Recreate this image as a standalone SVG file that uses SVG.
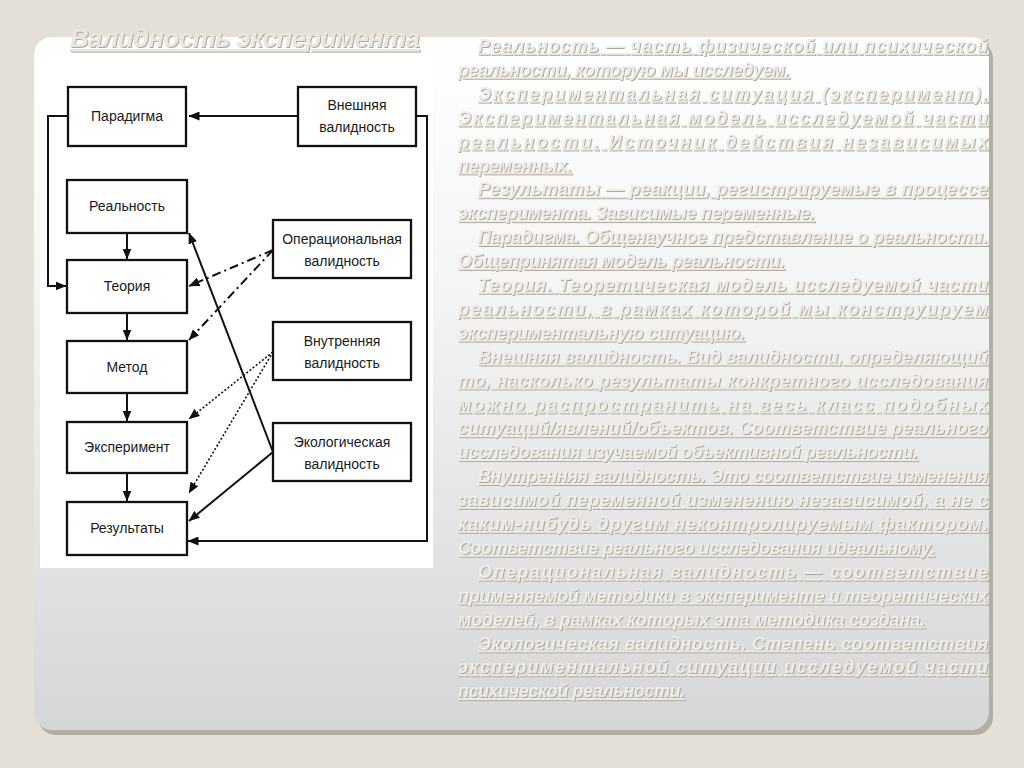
<svg xmlns="http://www.w3.org/2000/svg" width="1024" height="768" viewBox="0 0 1024 768">
<defs>
<linearGradient id="cardg" x1="0" y1="0" x2="0" y2="1">
<stop offset="0" stop-color="#ffffff"/>
<stop offset="0.35" stop-color="#f5f5f5"/>
<stop offset="1" stop-color="#d6d6d6"/>
</linearGradient>
<filter id="emb" x="-5%" y="-30%" width="110%" height="160%">
<feOffset in="SourceAlpha" dx="1" dy="1.3" result="o"/>
<feFlood flood-color="#aca79d"/>
<feComposite in2="o" operator="in" result="s"/>
<feMerge><feMergeNode in="s"/><feMergeNode in="SourceGraphic"/></feMerge>
</filter>
<marker id="ah" markerWidth="11" markerHeight="9" refX="10.5" refY="4.5" orient="auto" markerUnits="userSpaceOnUse">
<path d="M0,0 L11,4.5 L0,9 z" fill="#111"/>
</marker>
<style>
.box{fill:#fff;stroke:#111;stroke-width:2.3}
.lbl{font-family:"Liberation Sans",Arial,sans-serif;font-size:14px;fill:#1a1a1a;text-anchor:middle}
.c{fill:none;stroke:#111;stroke-width:2}
.dd{fill:none;stroke:#111;stroke-width:2;stroke-dasharray:9,4,2,4}
.dt{fill:none;stroke:#111;stroke-width:1.6;stroke-dasharray:2,2}
.p{font-family:"Liberation Sans",Arial,sans-serif;font-size:18px;font-style:italic;font-weight:bold;fill:#efece6;text-decoration:underline;filter:url(#emb)}
.t{font-family:"Liberation Sans",Arial,sans-serif;font-size:26px;font-style:italic;font-weight:bold;fill:#ebe7df;text-decoration:underline;filter:url(#emb)}
</style>
</defs>
<rect x="0" y="0" width="1024" height="768" fill="#e5e0d7"/>
<rect x="38" y="41" width="955" height="694" rx="18" fill="#b3aea4"/>
<rect x="34" y="37" width="955" height="693" rx="18" fill="url(#cardg)"/>
<rect x="40" y="58" width="393" height="510" fill="#ffffff"/>
<text class="t" x="70" y="47" textLength="350" lengthAdjust="spacing">Валидность эксперимента</text>

<g id="connectors">
<path class="c" d="M298,116 L189,116" marker-end="url(#ah)"/>
<path class="c" d="M68,116 H48 V286 H66" marker-end="url(#ah)"/>
<path class="c" d="M416,116 H427 V541 H188" marker-end="url(#ah)"/>
<path class="c" d="M127,233 V259" marker-end="url(#ah)"/>
<path class="c" d="M127,313 V340" marker-end="url(#ah)"/>
<path class="c" d="M127,393 V421" marker-end="url(#ah)"/>
<path class="c" d="M127,473 V501" marker-end="url(#ah)"/>
<path class="dd" d="M273,250 L189,286" marker-end="url(#ah)"/>
<path class="dd" d="M273,250 L189,340" marker-end="url(#ah)"/>
<path class="dt" d="M273,352 L189,419" marker-end="url(#ah)"/>
<path class="dt" d="M273,352 L189,493" marker-end="url(#ah)"/>
<path class="c" d="M273,452 L189,233" marker-end="url(#ah)"/>
<path class="c" d="M273,452 L189,521" marker-end="url(#ah)"/>
</g>

<g id="paradigma"><rect class="box" x="68" y="87" width="118" height="59"/><text class="lbl" x="127" y="121">Парадигма</text></g>
<g id="vneshnyaya"><rect class="box" x="298" y="87" width="118" height="59"/><text class="lbl" x="357" y="110">Внешняя</text><text class="lbl" x="357" y="132">валидность</text></g>
<g id="realnost"><rect class="box" x="67" y="180" width="120" height="53"/><text class="lbl" x="127" y="211">Реальность</text></g>
<g id="teoriya"><rect class="box" x="67" y="260" width="120" height="53"/><text class="lbl" x="127" y="291">Теория</text></g>
<g id="metod"><rect class="box" x="67" y="341" width="120" height="52"/><text class="lbl" x="127" y="372">Метод</text></g>
<g id="eksperiment"><rect class="box" x="67" y="422" width="120" height="51"/><text class="lbl" x="127" y="452">Эксперимент</text></g>
<g id="rezultaty"><rect class="box" x="67" y="502" width="120" height="53"/><text class="lbl" x="127" y="533">Результаты</text></g>
<g id="operacionalnaya"><rect class="box" x="273" y="220" width="138" height="58"/><text class="lbl" x="342" y="244">Операциональная</text><text class="lbl" x="342" y="266">валидность</text></g>
<g id="vnutrennyaya"><rect class="box" x="273" y="322" width="138" height="58"/><text class="lbl" x="342" y="346">Внутренняя</text><text class="lbl" x="342" y="368">валидность</text></g>
<g id="ekologicheskaya"><rect class="box" x="273" y="423" width="138" height="58"/><text class="lbl" x="342" y="447">Экологическая</text><text class="lbl" x="342" y="469">валидность</text></g>

<g id="definitions">
<text class="p" x="478" y="52" textLength="510" lengthAdjust="spacing">Реальность — часть физической или психической</text>
<text class="p" x="458" y="75.9" textLength="332" lengthAdjust="spacing">реальности, которую мы исследуем.</text>
<text class="p" x="478" y="99.8" textLength="510" lengthAdjust="spacing">Экспериментальная ситуация (эксперимент).</text>
<text class="p" x="458" y="123.7" textLength="530" lengthAdjust="spacing">Экспериментальная модель исследуемой части</text>
<text class="p" x="458" y="147.6" textLength="530" lengthAdjust="spacing">реальности. Источник действия независимых</text>
<text class="p" x="458" y="171.5" textLength="114" lengthAdjust="spacing">переменных.</text>
<text class="p" x="478" y="195.4" textLength="510" lengthAdjust="spacing">Результаты — реакции, регистрируемые в процессе</text>
<text class="p" x="458" y="219.3" textLength="357" lengthAdjust="spacing">эксперимента. Зависимые переменные.</text>
<text class="p" x="478" y="243.2" textLength="510" lengthAdjust="spacing">Парадигма. Общенаучное представление о реальности.</text>
<text class="p" x="458" y="267.1" textLength="327" lengthAdjust="spacing">Общепринятая модель реальности.</text>
<text class="p" x="478" y="291" textLength="510" lengthAdjust="spacing">Теория. Теоретическая модель исследуемой части</text>
<text class="p" x="458" y="314.9" textLength="530" lengthAdjust="spacing">реальности, в рамках которой мы конструируем</text>
<text class="p" x="458" y="338.8" textLength="287" lengthAdjust="spacing">экспериментальную ситуацию.</text>
<text class="p" x="478" y="362.7" textLength="510" lengthAdjust="spacing">Внешняя валидность. Вид валидности, определяющий</text>
<text class="p" x="458" y="386.6" textLength="530" lengthAdjust="spacing">то, насколько результаты конкретного исследования</text>
<text class="p" x="458" y="410.5" textLength="530" lengthAdjust="spacing">можно распространить на весь класс подобных</text>
<text class="p" x="458" y="434.4" textLength="530" lengthAdjust="spacing">ситуаций/явлений/объектов. Соответствие реального</text>
<text class="p" x="458" y="458.3" textLength="460" lengthAdjust="spacing">исследования изучаемой объективной реальности.</text>
<text class="p" x="478" y="482.2" textLength="510" lengthAdjust="spacing">Внутренняя валидность. Это соответствие изменения</text>
<text class="p" x="458" y="506.1" textLength="530" lengthAdjust="spacing">зависимой переменной изменению независимой, а не с</text>
<text class="p" x="458" y="530" textLength="530" lengthAdjust="spacing">каким-нибудь другим неконтролируемым фактором.</text>
<text class="p" x="458" y="553.9" textLength="477" lengthAdjust="spacing">Соответствие реального исследования идеальному.</text>
<text class="p" x="478" y="577.8" textLength="510" lengthAdjust="spacing">Операциональная валидность — соответствие</text>
<text class="p" x="458" y="601.7" textLength="530" lengthAdjust="spacing">применяемой методики в эксперименте и теоретических</text>
<text class="p" x="458" y="625.6" textLength="467" lengthAdjust="spacing">моделей, в рамках которых эта методика создана.</text>
<text class="p" x="478" y="649.5" textLength="510" lengthAdjust="spacing">Экологическая валидность. Степень соответствия</text>
<text class="p" x="458" y="673.4" textLength="530" lengthAdjust="spacing">экспериментальной ситуации исследуемой части</text>
<text class="p" x="458" y="697.3" textLength="227" lengthAdjust="spacing">психической реальности.</text>
</g>
</svg>
